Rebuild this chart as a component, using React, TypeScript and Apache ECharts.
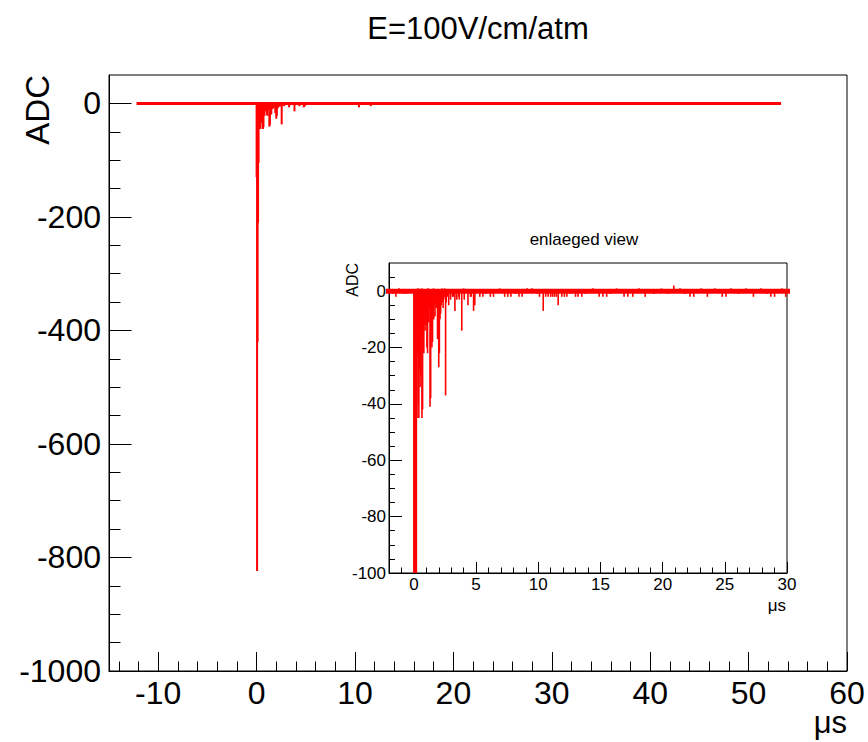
import React, { useEffect, useRef } from "react";
import * as echarts from "echarts";

const FONT = "'Liberation Sans', Arial, Helvetica, sans-serif";
const RED = "#ff0000";

// chart texts
const titleText = "E=100V/cm/atm";
const insetTitleText = "enlaeged view";
const yName = "ADC";
const xName = "\u03bcs";

// sampling window of the recorded trace (µs)
const traceStart = -12.2;
const traceEnd = 53.3;

// pulse samples (µs, ADC)
const pulseTimes = [
  0.0, 0.05, 0.1, 0.15, 0.2, 0.25, 0.3, 0.35, 0.4, 0.45, 0.5, 0.55, 0.6, 0.65, 0.7, 0.75, 0.8, 0.85,
  0.9, 0.95, 1.0, 1.05, 1.1, 1.15, 1.2, 1.25, 1.3, 1.35, 1.4, 1.45, 1.5, 1.55, 1.6, 1.65, 1.7, 1.75,
  1.8, 1.85, 1.9, 1.95, 2.0, 2.05, 2.1, 2.15, 2.2, 2.25, 2.3, 2.35, 2.4, 2.45, 2.55, 2.6, 2.7, 2.8,
  2.95, 3.1, 3.3, 3.45, 3.6, 3.85, 4.05, 4.35, 4.6, 4.8, 4.9,
];
const pulseValues = [
  -130, -824, -420, -210, -105, -45, -22, -40, -45, -28, -34, -30, -15, -45, -42, -17, -22, -12,
  -14, -10, -12, -20, -22, -9, -11, -6, -41, -38, -14, -20, -18, -8, -10, -5, -9, -4,
  -6, -3, -17, -14, -27, -22, -10, -8, -5, -2, -4, -6, -3, -2, -37, -4, -2, -5,
  -3, -2, -7, -3, -2, -14, -3, -5, -2, -7, -5,
];

// baseline noise samples (µs, ADC)
const noiseTimes = [
  -1.7, -1.45, -1.2, -0.85, -0.6, 0.32, 0.62, 1.12, 1.58, 2.28, 2.48, 3.2, 3.65, 4.0, 4.55, 5.3,
  5.55, 5.8, 6.15, 6.4, 6.9, 7.3, 7.55, 7.8, 8.2, 8.45, 8.7, 9.1, 9.5, 9.9, 10.1, 10.4, 10.6, 10.8,
  11.0, 11.15, 11.3, 11.45, 11.6, 11.9, 12.1, 12.3, 12.6, 13.0, 13.2, 13.5, 13.8, 14.4, 14.9, 15.2,
  15.5, 15.8, 16.3, 16.9, 17.2, 17.6, 18.1, 18.6, 19.3, 19.9, 20.4, 20.9, 21.4, 21.8, 22.2, 22.5,
  23.1, 23.6, 24.2, 24.8, 25.1, 25.5, 26.1, 26.7, 27.3, 27.9, 28.4, 28.7, 29.0, 29.6, 29.9,
];
const noiseValues = [
  -1, -2, 1, -1, -1, 1, 1, 1, 1, 1, 1, -2, -3, 1, -2, -2,
  -2, -1, -2, -2, 1, -2, -2, -2, -1, -2, -2, 1, 1, -1, -2, -7, -2, -2,
  -2, -2, -2, -2, -5, -2, -2, -2, -1, -2, -2, -2, -1, 1, -2, -2,
  -2, -1, 1, -2, -2, -2, 1, -2, -1, 1, -1, 2, 1, -1, -2, -2,
  1, -2, 1, -2, -2, 1, -1, 1, -2, 1, -1, -2, -2, 1, -2,
];

// axis ticks
const mainXTicks = [-10, 0, 10, 20, 30, 40, 50, 60];
const mainXMinor = [
  -14, -12, -8, -6, -4, -2, 2, 4, 6, 8, 12, 14, 16, 18, 22, 24, 26, 28, 32, 34, 36, 38, 42, 44, 46,
  48, 52, 54, 56, 58,
];
const mainYTicks = [-1000, -800, -600, -400, -200, 0];
const mainYMinor = [
  -950, -900, -850, -750, -700, -650, -550, -500, -450, -350, -300, -250, -150, -100, -50,
];
const insetXTicks = [0, 5, 10, 15, 20, 25, 30];
const insetXMinor = [
  -1, 1, 2, 3, 4, 6, 7, 8, 9, 11, 12, 13, 14, 16, 17, 18, 19, 21, 22, 23, 24, 26, 27, 28, 29,
];
const insetYTicks = [-100, -80, -60, -40, -20, 0];
const insetYMinor = [-95, -90, -85, -75, -70, -65, -55, -50, -45, -35, -30, -25, -15, -10, -5, 5];

const MAIN_X = [-15, 60];
const MAIN_Y = [-1000, 50];
const INSET_X = [-2, 30];
const INSET_Y = [-100, 10];

function majorAxis(
  gridIndex: number,
  range: number[],
  ticks: number[],
  pos: string,
  tickLen: number,
  fontSize: number,
  margin: number
) {
  return {
    type: "value",
    gridIndex,
    position: pos,
    min: range[0],
    max: range[1],
    axisLine: { show: true, onZero: false, lineStyle: { color: "#000", width: 1 } },
    axisTick: {
      show: true,
      inside: true,
      length: tickLen,
      customValues: ticks,
      lineStyle: { color: "#000", width: 1 },
    },
    axisLabel: {
      show: true,
      customValues: ticks,
      color: "#000",
      fontFamily: FONT,
      fontSize,
      margin,
      formatter: (v: number) => String(v),
    },
    splitLine: { show: false },
    minorTick: { show: false },
  };
}

function minorAxis(gridIndex: number, range: number[], ticks: number[], pos: string, tickLen: number) {
  return {
    type: "value",
    gridIndex,
    position: pos,
    min: range[0],
    max: range[1],
    axisLine: { show: false, onZero: false },
    axisTick: {
      show: true,
      inside: true,
      length: tickLen,
      customValues: ticks,
      lineStyle: { color: "#000", width: 1 },
    },
    axisLabel: { show: false },
    splitLine: { show: false },
  };
}

export default function App() {
  const ref = useRef<HTMLDivElement>(null);

  useEffect(() => {
    if (!ref.current) return;
    const chart = echarts.init(ref.current, undefined, { renderer: "svg" });

    const pulseData = pulseTimes.map((t, i) => [t, pulseValues[i]]);
    const noiseData = noiseTimes.map((t, i) => [t, noiseValues[i]]);
    const barData = [...pulseData, ...noiseData];
    const baseline = [
      [traceStart, 0],
      [traceEnd, 0],
    ];

    const option = {
      animation: false,
      backgroundColor: "#fff",
      grid: [
        {
          left: 109,
          top: 75,
          width: 738,
          height: 596,
          show: true,
          borderColor: "#000",
          borderWidth: 1,
          backgroundColor: "transparent",
        },
        {
          left: 389,
          top: 263,
          width: 398,
          height: 310,
          show: true,
          borderColor: "#000",
          borderWidth: 1,
          backgroundColor: "#fff",
        },
      ],
      xAxis: [
        majorAxis(0, MAIN_X, mainXTicks, "bottom", 19, 32, 6),
        minorAxis(0, MAIN_X, mainXMinor, "bottom", 9.5),
        majorAxis(1, INSET_X, insetXTicks, "bottom", 11, 17, 3),
        minorAxis(1, INSET_X, insetXMinor, "bottom", 5.5),
      ],
      yAxis: [
        majorAxis(0, MAIN_Y, mainYTicks, "left", 22.5, 32, 8),
        minorAxis(0, MAIN_Y, mainYMinor, "left", 11.5),
        majorAxis(1, INSET_Y, insetYTicks, "left", 13, 17, 3),
        minorAxis(1, INSET_Y, insetYMinor, "left", 6),
      ],
      series: [
        {
          type: "line",
          xAxisIndex: 0,
          yAxisIndex: 0,
          data: baseline,
          symbol: "none",
          lineStyle: { color: RED, width: 3 },
          clip: true,
          silent: true,
        },
        {
          type: "bar",
          xAxisIndex: 0,
          yAxisIndex: 0,
          data: barData,
          barWidth: 2,
          itemStyle: { color: RED },
          clip: true,
          silent: true,
        },
        {
          type: "line",
          xAxisIndex: 2,
          yAxisIndex: 2,
          data: baseline,
          symbol: "none",
          lineStyle: { color: RED, width: 5 },
          clip: true,
          silent: true,
          z: 3,
        },
        {
          type: "bar",
          xAxisIndex: 2,
          yAxisIndex: 2,
          data: barData,
          barWidth: 1.6,
          itemStyle: { color: RED },
          clip: true,
          silent: true,
          z: 3,
        },
      ],
      graphic: [
        {
          type: "text",
          x: 478,
          y: 28,
          style: {
            text: titleText,
            font: `31px ${FONT}`,
            fill: "#000",
            align: "center",
            verticalAlign: "middle",
          },
        },
        {
          type: "text",
          x: 37,
          y: 75,
          rotation: Math.PI / 2,
          style: {
            text: yName,
            font: `33px ${FONT}`,
            fill: "#000",
            align: "right",
            verticalAlign: "middle",
          },
        },
        {
          type: "text",
          x: 847,
          y: 722,
          style: {
            text: xName,
            font: `31px ${FONT}`,
            fill: "#000",
            align: "right",
            verticalAlign: "middle",
          },
        },
        {
          type: "text",
          x: 584,
          y: 239,
          style: {
            text: insetTitleText,
            font: `17px ${FONT}`,
            fill: "#000",
            align: "center",
            verticalAlign: "middle",
          },
        },
        {
          type: "text",
          x: 352,
          y: 263,
          rotation: Math.PI / 2,
          style: {
            text: yName,
            font: `16px ${FONT}`,
            fill: "#000",
            align: "right",
            verticalAlign: "middle",
          },
        },
        {
          type: "text",
          x: 786,
          y: 605,
          style: {
            text: xName,
            font: `17px ${FONT}`,
            fill: "#000",
            align: "right",
            verticalAlign: "middle",
          },
        },
      ],
    };

    chart.setOption(option as any);
    return () => chart.dispose();
  }, []);

  return (
    <div
      ref={ref}
      style={{ position: "absolute", left: 0, top: 0, width: 868, height: 742 }}
    />
  );
}
